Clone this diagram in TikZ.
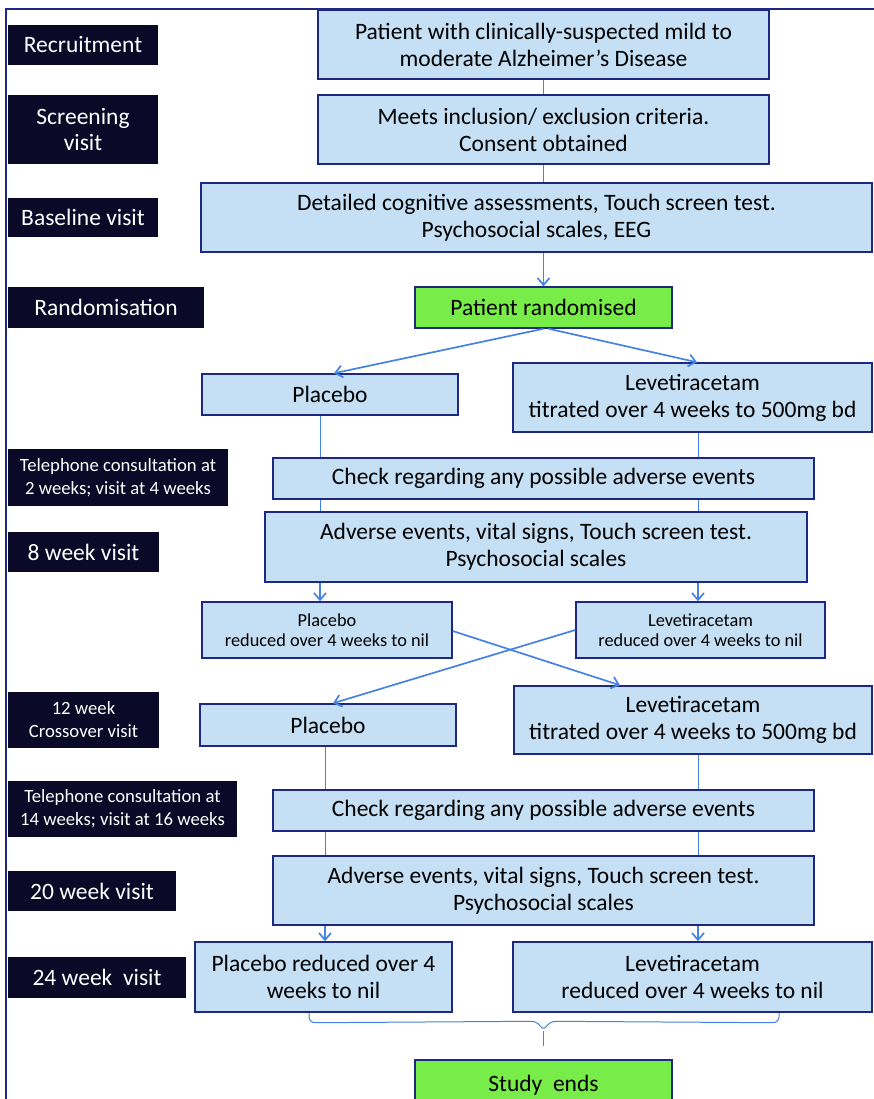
\documentclass[tikz,border=0pt]{standalone}
\usepackage{fontspec}
\setmainfont{Carlito}
\usetikzlibrary{arrows.meta,calc}
\definecolor{boxfill}{RGB}{197,224,245}
\definecolor{boxdraw}{RGB}{30,40,130}
\definecolor{greenfill}{RGB}{120,236,72}
\definecolor{labfill}{RGB}{10,10,40}
\definecolor{conn}{RGB}{70,130,225}
\tikzset{
 bbox/.style={draw=boxdraw, line width=1.5pt, fill=boxfill, align=center, inner sep=0pt, font=\fontsize{23.5}{27}\selectfont},
 gbox/.style={bbox, fill=greenfill},
 sbox/.style={bbox, font=\fontsize{18.3}{20.5}\selectfont},
 lab/.style={fill=labfill, text=white, align=center, inner sep=0pt, font=\fontsize{23.5}{26}\selectfont},
 slab/.style={lab, font=\fontsize{18.7}{23}\selectfont},
 ln/.style={draw=conn, line width=1pt},
 arr/.style={draw=conn, line width=1.7pt, -{Straight Barb[length=7pt,width=12pt]}},
}
\begin{document}
\begin{tikzpicture}[x=1pt,y=-1pt]
\useasboundingbox (0,0) rectangle (874,1099);
% outer frame
\draw[boxdraw, line width=1.2pt] (6,1099) -- (6,9) -- (874,9);
% left labels
\node[lab, minimum width=150pt, minimum height=40pt] (l1) at (83,45) {Recruitment};
\node[lab, minimum width=150pt, minimum height=69pt] (l2) at (83,129.5) {Screening\\visit};
\node[lab, minimum width=150pt, minimum height=39pt] (l3) at (83,217.5) {Baseline visit};
\node[lab, minimum width=196pt, minimum height=41pt] (l4) at (106,307.5) {Randomisation};
\node[slab, minimum width=220pt, minimum height=57pt] (l5) at (118,477.5) {Telephone consultation at\\2 weeks; visit at 4 weeks};
\node[lab, minimum width=151pt, minimum height=40pt] (l6) at (83.5,552) {8 week visit};
\node[slab, minimum width=151pt, minimum height=56pt] (l7) at (83.5,720) {12 week\\Crossover visit};
\node[slab, minimum width=229pt, minimum height=56pt] (l8) at (122.5,809) {Telephone consultation at\\14 weeks; visit at 16 weeks};
\node[lab, minimum width=168pt, minimum height=40pt] (l9) at (92,891) {20 week visit};
\node[lab, minimum width=178pt, minimum height=41pt] (l10) at (97,977.5) {24 week\ \ visit};
% flow boxes
\node[bbox, minimum width=451pt, minimum height=69pt] (b1) at (543.5,44.5) {Patient with clinically-suspected mild to\\moderate Alzheimer’s Disease};
\node[bbox, minimum width=451pt, minimum height=69pt] (b2) at (543.5,129.5) {Meets inclusion/ exclusion criteria.\\Consent obtained};
\node[bbox, minimum width=671pt, minimum height=69pt] (b3) at (536.5,217.5) {Detailed cognitive assessments, Touch screen test.\\Psychosocial scales, EEG};
\node[gbox, minimum width=257pt, minimum height=41pt] (r) at (543.5,307.5) {Patient randomised};
\node[bbox, minimum width=256pt, minimum height=41pt] (p1) at (330,394.5) {Placebo};
\node[bbox, minimum width=359pt, minimum height=69pt] (v1) at (692.5,397.5) {Levetiracetam\\titrated over 4 weeks to 500mg bd};
\node[bbox, minimum width=541pt, minimum height=41pt] (c1) at (543.5,478.5) {Check regarding any possible adverse events};
\node[bbox, minimum width=542pt, minimum height=70pt] (a1) at (536,547) {Adverse events, vital signs, Touch screen test.\\Psychosocial scales};
\node[sbox, minimum width=250pt, minimum height=56pt] (pr1) at (327,630) {Placebo\\reduced over 4 weeks to nil};
\node[sbox, minimum width=249pt, minimum height=56pt] (vr1) at (700.5,630) {Levetiracetam\\reduced over 4 weeks to nil};
\node[bbox, minimum width=256pt, minimum height=42pt] (p2) at (328,725) {Placebo};
\node[bbox, minimum width=358pt, minimum height=68pt] (v2) at (693,720) {Levetiracetam\\titrated over 4 weeks to 500mg bd};
\node[bbox, minimum width=541pt, minimum height=41pt] (c2) at (543.5,810.5) {Check regarding any possible adverse events};
\node[bbox, minimum width=541pt, minimum height=69pt] (a2) at (543.5,890.5) {Adverse events, vital signs, Touch screen test.\\Psychosocial scales};
\node[bbox, minimum width=257pt, minimum height=70pt] (pr2) at (323.5,977) {Placebo reduced over 4\\weeks to nil};
\node[bbox, minimum width=359pt, minimum height=70pt] (vr2) at (692.5,977) {Levetiracetam\\reduced over 4 weeks to nil};
\node[gbox, minimum width=257pt, minimum height=50pt] (e) at (543.5,1085) {Study\ \ ends};
% column coordinates
\coordinate (xa) at (320,0);
\coordinate (xb) at (325,0);
\coordinate (xr) at (698,0);
% connectors
\draw[ln] (b1.south) -- (b2.north);
\draw[ln] (b2.south) -- (b2.south |- b3.north);
\draw[arr] (r.north |- b3.south) -- (r.north);
\draw[arr] (r.south) -- ($(p1.north)+(4,0)$);
\draw[arr] ($(r.south)+(5,0)$) -- ($(v1.north)+(4.5,0)$);
\draw[ln] (p1.south -| xa) -- (c1.north -| xa);
\draw[ln] (v1.south -| xr) -- (c1.north -| xr);
\draw[ln] (c1.south -| xa) -- (a1.north -| xa);
\draw[ln] (c1.south -| xr) -- (a1.north -| xr);
\draw[arr] (a1.south -| xa) -- (pr1.north -| xa);
\draw[arr] (a1.south -| xr) -- (vr1.north -| xr);
\draw[arr] ($(pr1.east)+(0,1)$) -- ($(v2.north)+(-73,0)$);
\draw[arr] (vr1.west) -- ($(p2.north)+(5,0)$);
\draw[ln] (p2.south -| xb) -- (c2.north -| xb);
\draw[ln] (v2.south -| xr) -- (c2.north -| xr);
\draw[ln] (c2.south -| xb) -- (a2.north -| xb);
\draw[ln] (c2.south -| xr) -- (a2.north -| xr);
\draw[arr] (a2.south -| xb) -- (pr2.north -| xb);
\draw[arr] (a2.south -| xr) -- (vr2.north -| xr);
% brace
\coordinate (bl) at ($(pr2.south)+(-14.5,0)$);
\coordinate (br) at ($(vr2.south)+(86.5,0)$);
\coordinate (tip) at ($(e.north)+(0,-28)$);
\draw[ln, rounded corners=6pt] (bl) -- ($(bl)+(0,10)$) -- ($(tip)+(-6,-10)$) -- (tip) -- ($(tip)+(6,-10)$) -- ($(br)+(0,10)$) -- (br);
\draw[ln] (tip) -- ($(e.north)+(0,-13)$);
\end{tikzpicture}
\end{document}
